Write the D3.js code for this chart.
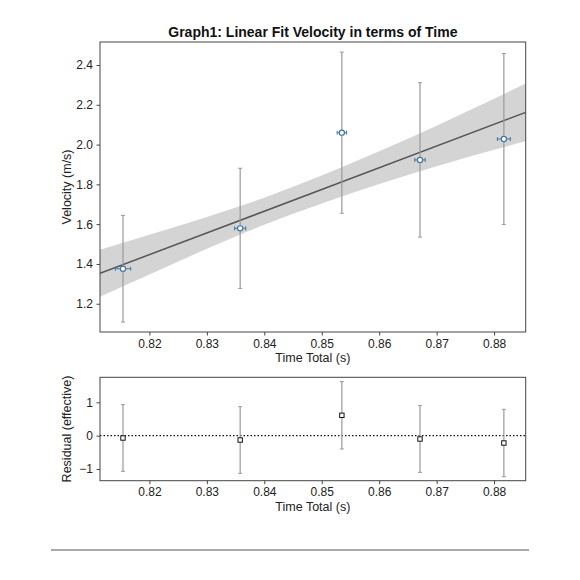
<!DOCTYPE html>
<html>
<head>
<meta charset="utf-8">
<script src="https://cdn.jsdelivr.net/npm/d3@7"></script>
<style>
  body { margin: 0; background: #fff; }
  text { font-family: "Liberation Sans", "DejaVu Sans", sans-serif; fill: #222; }
</style>
</head>
<body>
<div id="chart"></div>
<script>
// measured points
const timeTotal = [0.8154, 0.8358, 0.8535, 0.8671, 0.8817];
const timeErr = [0.00134, 0.00096, 0.00082, 0.0009, 0.00113];
const velocity = [1.376, 1.579, 2.060, 1.923, 2.028];
const velocityErr = [0.268, 0.302, 0.405, 0.388, 0.43];

// fit line and its band
const fitT = [0.8114, 0.8855];
const fitV = [1.353, 2.162];
const bandT = [0.8114, 0.82, 0.83, 0.84, 0.85, 0.86, 0.87, 0.88, 0.8855];
const bandLo = [1.235, 1.347, 1.476, 1.597, 1.704, 1.802, 1.891, 1.974, 2.017];
const bandHi = [1.471, 1.547, 1.636, 1.733, 1.844, 1.966, 2.095, 2.230, 2.307];

// residuals
const residual = [-0.07, -0.13, 0.61, -0.10, -0.22];
const residualErr = [1.0, 1.0, 1.01, 1.0, 1.01];

const xTicks = [0.82, 0.83, 0.84, 0.85, 0.86, 0.87, 0.88];
const vTicks = [1.2, 1.4, 1.6, 1.8, 2.0, 2.2, 2.4];
const rTicks = [-1, 0, 1];

const width = 580, height = 580;
const svg = d3.select('#chart').append('svg')
  .attr('width', width).attr('height', height);
svg.append('rect').attr('width', width).attr('height', height).attr('fill', '#fff');

const left = 100, right = 525.7;
const top1 = 42, bot1 = 332;
const top2 = 377.3, bot2 = 480.7;

const x = d3.scaleLinear().domain([0.8114, 0.8855]).range([left, right]);
const y = d3.scaleLinear().domain([1.058, 2.5156]).range([bot1, top1]);
const yr = d3.scaleLinear().domain([-1.35, 1.75]).range([bot2, top2]);

const spine = '#444';
const errGrey = '#999';
const blue = '#3f77a6';

function drawAxes(yScale, yt, fmt, topY, botY, ylabel) {
  const gx = svg.append('g').attr('transform', `translate(0,${botY})`)
    .call(d3.axisBottom(x).tickValues(xTicks).tickFormat(d3.format('.2f')).tickSize(3.5).tickPadding(3.5));
  const gy = svg.append('g').attr('transform', `translate(${left},0)`)
    .call(d3.axisLeft(yScale).tickValues(yt).tickFormat(fmt).tickSize(3.5).tickPadding(3.5));
  [gx, gy].forEach(g => {
    g.select('.domain').remove();
    g.selectAll('line').attr('stroke', spine);
    g.selectAll('text').style('font-size', '12px').style('fill', '#222');
  });
  svg.append('rect')
    .attr('x', left).attr('y', topY)
    .attr('width', right - left).attr('height', botY - topY)
    .attr('fill', 'none').attr('stroke', spine).attr('stroke-width', 1);
  svg.append('text')
    .attr('x', (left + right) / 2).attr('y', botY + 30)
    .attr('text-anchor', 'middle').style('font-size', '12.5px')
    .text('Time Total (s)');
  svg.append('text')
    .attr('transform', `translate(71,${(topY + botY) / 2}) rotate(-90)`)
    .attr('text-anchor', 'middle').style('font-size', '12.5px')
    .text(ylabel);
}

// top panel
const band = d3.area()
  .x((d, i) => x(bandT[i]))
  .y0((d, i) => y(bandLo[i]))
  .y1((d, i) => y(bandHi[i]))
  .curve(d3.curveMonotoneX);

svg.append('clipPath').attr('id', 'clip1')
  .append('rect').attr('x', left).attr('y', top1).attr('width', right - left).attr('height', bot1 - top1);

const p1 = svg.append('g').attr('clip-path', 'url(#clip1)');
p1.append('path').datum(bandT).attr('d', band).attr('fill', '#d4d4d4');

p1.append('path').datum(fitT)
  .attr('d', d3.line().x((d, i) => x(fitT[i])).y((d, i) => y(fitV[i])))
  .attr('stroke', '#555').attr('stroke-width', 1.5).attr('fill', 'none');

timeTotal.forEach((t, i) => {
  const g = p1.append('g');
  const lo = y(velocity[i] - velocityErr[i]), hi = y(velocity[i] + velocityErr[i]);
  g.append('line').attr('x1', x(t)).attr('x2', x(t)).attr('y1', lo).attr('y2', hi)
    .attr('stroke', errGrey).attr('stroke-width', 1.2);
  [lo, hi].forEach(v => g.append('line').attr('x1', x(t) - 2).attr('x2', x(t) + 2)
    .attr('y1', v).attr('y2', v).attr('stroke', errGrey).attr('stroke-width', 1));
  const l = x(t - timeErr[i]), r = x(t + timeErr[i]), cy = y(velocity[i]);
  g.append('line').attr('x1', l).attr('x2', r).attr('y1', cy).attr('y2', cy)
    .attr('stroke', blue).attr('stroke-width', 1);
  [l, r].forEach(v => g.append('line').attr('x1', v).attr('x2', v)
    .attr('y1', cy - 2).attr('y2', cy + 2).attr('stroke', blue).attr('stroke-width', 1));
  g.append('circle').attr('cx', x(t)).attr('cy', cy).attr('r', 2.6)
    .attr('fill', '#fff').attr('stroke', blue).attr('stroke-width', 1.2);
});

drawAxes(y, vTicks, d3.format('.1f'), top1, bot1, 'Velocity (m/s)');

// title
svg.append('text')
  .attr('x', (left + right) / 2).attr('y', 37)
  .attr('text-anchor', 'middle').style('font-size', '14px').style('font-weight', 'bold')
  .style('fill', '#111')
  .text('Graph1:  Linear Fit Velocity in terms of Time');

// residual panel
const p2 = svg.append('g');
p2.append('line').attr('x1', left).attr('x2', right).attr('y1', yr(0)).attr('y2', yr(0))
  .attr('stroke', '#111').attr('stroke-width', 1.2).attr('stroke-dasharray', '1.5,2');

timeTotal.forEach((t, i) => {
  const lo = yr(residual[i] - residualErr[i]), hi = yr(residual[i] + residualErr[i]);
  p2.append('line').attr('x1', x(t)).attr('x2', x(t)).attr('y1', lo).attr('y2', hi)
    .attr('stroke', errGrey).attr('stroke-width', 1.2);
  [lo, hi].forEach(v => p2.append('line').attr('x1', x(t) - 2).attr('x2', x(t) + 2)
    .attr('y1', v).attr('y2', v).attr('stroke', errGrey).attr('stroke-width', 1));
  p2.append('rect').attr('x', x(t) - 2.2).attr('y', yr(residual[i]) - 2.2)
    .attr('width', 4.4).attr('height', 4.4)
    .attr('fill', '#fff').attr('stroke', '#111').attr('stroke-width', 1);
});

const fmtR = d => d < 0 ? '\u2212' + Math.abs(d) : String(d);
drawAxes(yr, rTicks, fmtR, top2, bot2, 'Residual (effective)');

// separator line at the bottom
svg.append('line').attr('x1', 51).attr('x2', 529).attr('y1', 550).attr('y2', 550)
  .attr('stroke', '#555').attr('stroke-width', 1);
</script>
</body>
</html>
